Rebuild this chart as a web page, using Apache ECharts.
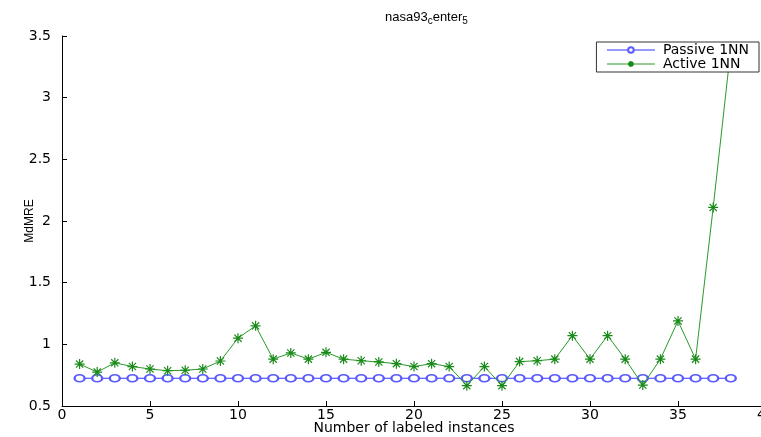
<!DOCTYPE html>
<html>
<head>
<meta charset="utf-8">
<script src="https://cdn.jsdelivr.net/npm/echarts@6/dist/echarts.min.js"></script>
<style>html,body{margin:0;padding:0;background:#fff}#c{width:761px;height:437px}</style>
</head>
<body>
<div id="c"></div>
<script>
var xValues = [1,2,3,4,5,6,7,8,9,10,11,12,13,14,15,16,17,18,19,20,21,22,23,24,25,26,27,28,29,30,31,32,33,34,35,36,37,38];
var passive = [0.725,0.725,0.725,0.725,0.725,0.725,0.725,0.725,0.725,0.725,0.725,0.725,0.725,0.725,0.725,0.725,0.725,0.725,0.725,0.725,0.725,0.725,0.725,0.725,0.725,0.725,0.725,0.725,0.725,0.725,0.725,0.725,0.725,0.725,0.725,0.725,0.725,0.725];
var active = [0.84,0.775,0.85,0.82,0.80,0.786,0.79,0.80,0.865,1.05,1.15,0.88,0.93,0.88,0.935,0.88,0.867,0.857,0.843,0.82,0.843,0.82,0.665,0.82,0.665,0.86,0.867,0.88,1.07,0.88,1.07,0.88,0.67,0.88,1.19,0.88,2.11,3.40];
var seriesNames = ['Passive 1NN', 'Active 1NN'];
var titleText = 'nasa93{sub|c}enter{sub|5}';
var xName = 'Number of labeled instances';
var yName = 'MdMRE';

function pairs(ys){ return ys.map(function(y,i){ return [xValues[i], y]; }); }

var FONT = 'Liberation Sans, Arial, sans-serif';
var WFONT = 'DejaVu Sans, sans-serif';
var star = 'path://M0,-5L0,5M-5,0L5,0M-3.6,-3.6L3.6,3.6M-3.6,3.6L3.6,-3.6';

var chart = echarts.init(document.getElementById('c'));
chart.setOption({
  animation: false,
  backgroundColor: '#fff',
  title: {
    text: titleText,
    left: 380, top: 3,
    textStyle: {
      fontFamily: FONT, fontSize: 13, fontWeight: 'normal', color: '#000',
      rich: { sub: { fontFamily: FONT, fontSize: 10, verticalAlign: 'bottom', padding: [8,0,0,0], color: '#000' } }
    }
  },
  legend: {
    orient: 'vertical',
    right: 2, top: 42,
    backgroundColor: '#fff',
    borderColor: '#333', borderWidth: 1,
    padding: [1, 10, 1, 10],
    itemGap: 0,
    itemWidth: 48, itemHeight: 7,
    lineStyle: { width: 1 },
    textStyle: { fontFamily: WFONT, fontSize: 14, color: '#000', padding: [0,0,0,3] },
    data: seriesNames
  },
  grid: { left: 62, top: 36, width: 704, height: 370, outerBoundsMode: 'none', containLabel: false },
  xAxis: {
    type: 'value', min: 0, max: 40, interval: 5,
    name: xName, nameLocation: 'middle', nameGap: 15, nameMoveOverlap: false,
    nameTextStyle: { fontFamily: WFONT, fontSize: 14, color: '#000' },
    axisLine: { lineStyle: { color: '#000', width: 1 } },
    axisTick: { inside: true, length: 5, lineStyle: { color: '#000' } },
    axisLabel: { fontFamily: WFONT, fontSize: 14, color: '#000', margin: 2 },
    splitLine: { show: false }
  },
  yAxis: {
    type: 'value', min: 0.5, max: 3.5, interval: 0.5,
    name: yName, nameLocation: 'middle', nameGap: 26, nameMoveOverlap: false,
    nameTextStyle: { fontFamily: FONT, fontSize: 12, color: '#000' },
    axisLine: { show: true, lineStyle: { color: '#000', width: 1 } },
    axisTick: { show: true, inside: true, length: 5, lineStyle: { color: '#000' } },
    axisLabel: { fontFamily: WFONT, fontSize: 14, color: '#000', margin: 11 },
    splitLine: { show: false }
  },
  series: [
    {
      name: seriesNames[0], type: 'line', data: pairs(passive),
      symbol: 'emptyCircle', symbolSize: [10, 7],
      lineStyle: { color: '#3333ff', width: 1 },
      itemStyle: { color: '#5a5aff', borderWidth: 0.9 },
      z: 2
    },
    {
      name: seriesNames[1], type: 'line', data: pairs(active),
      symbol: star, symbolSize: 10,
      lineStyle: { color: '#2a9a2a', width: 1 },
      itemStyle: { color: 'transparent', borderColor: '#1a8a1a', borderWidth: 1.2 },
      z: 3
    }
  ]
});
</script>
</body>
</html>
